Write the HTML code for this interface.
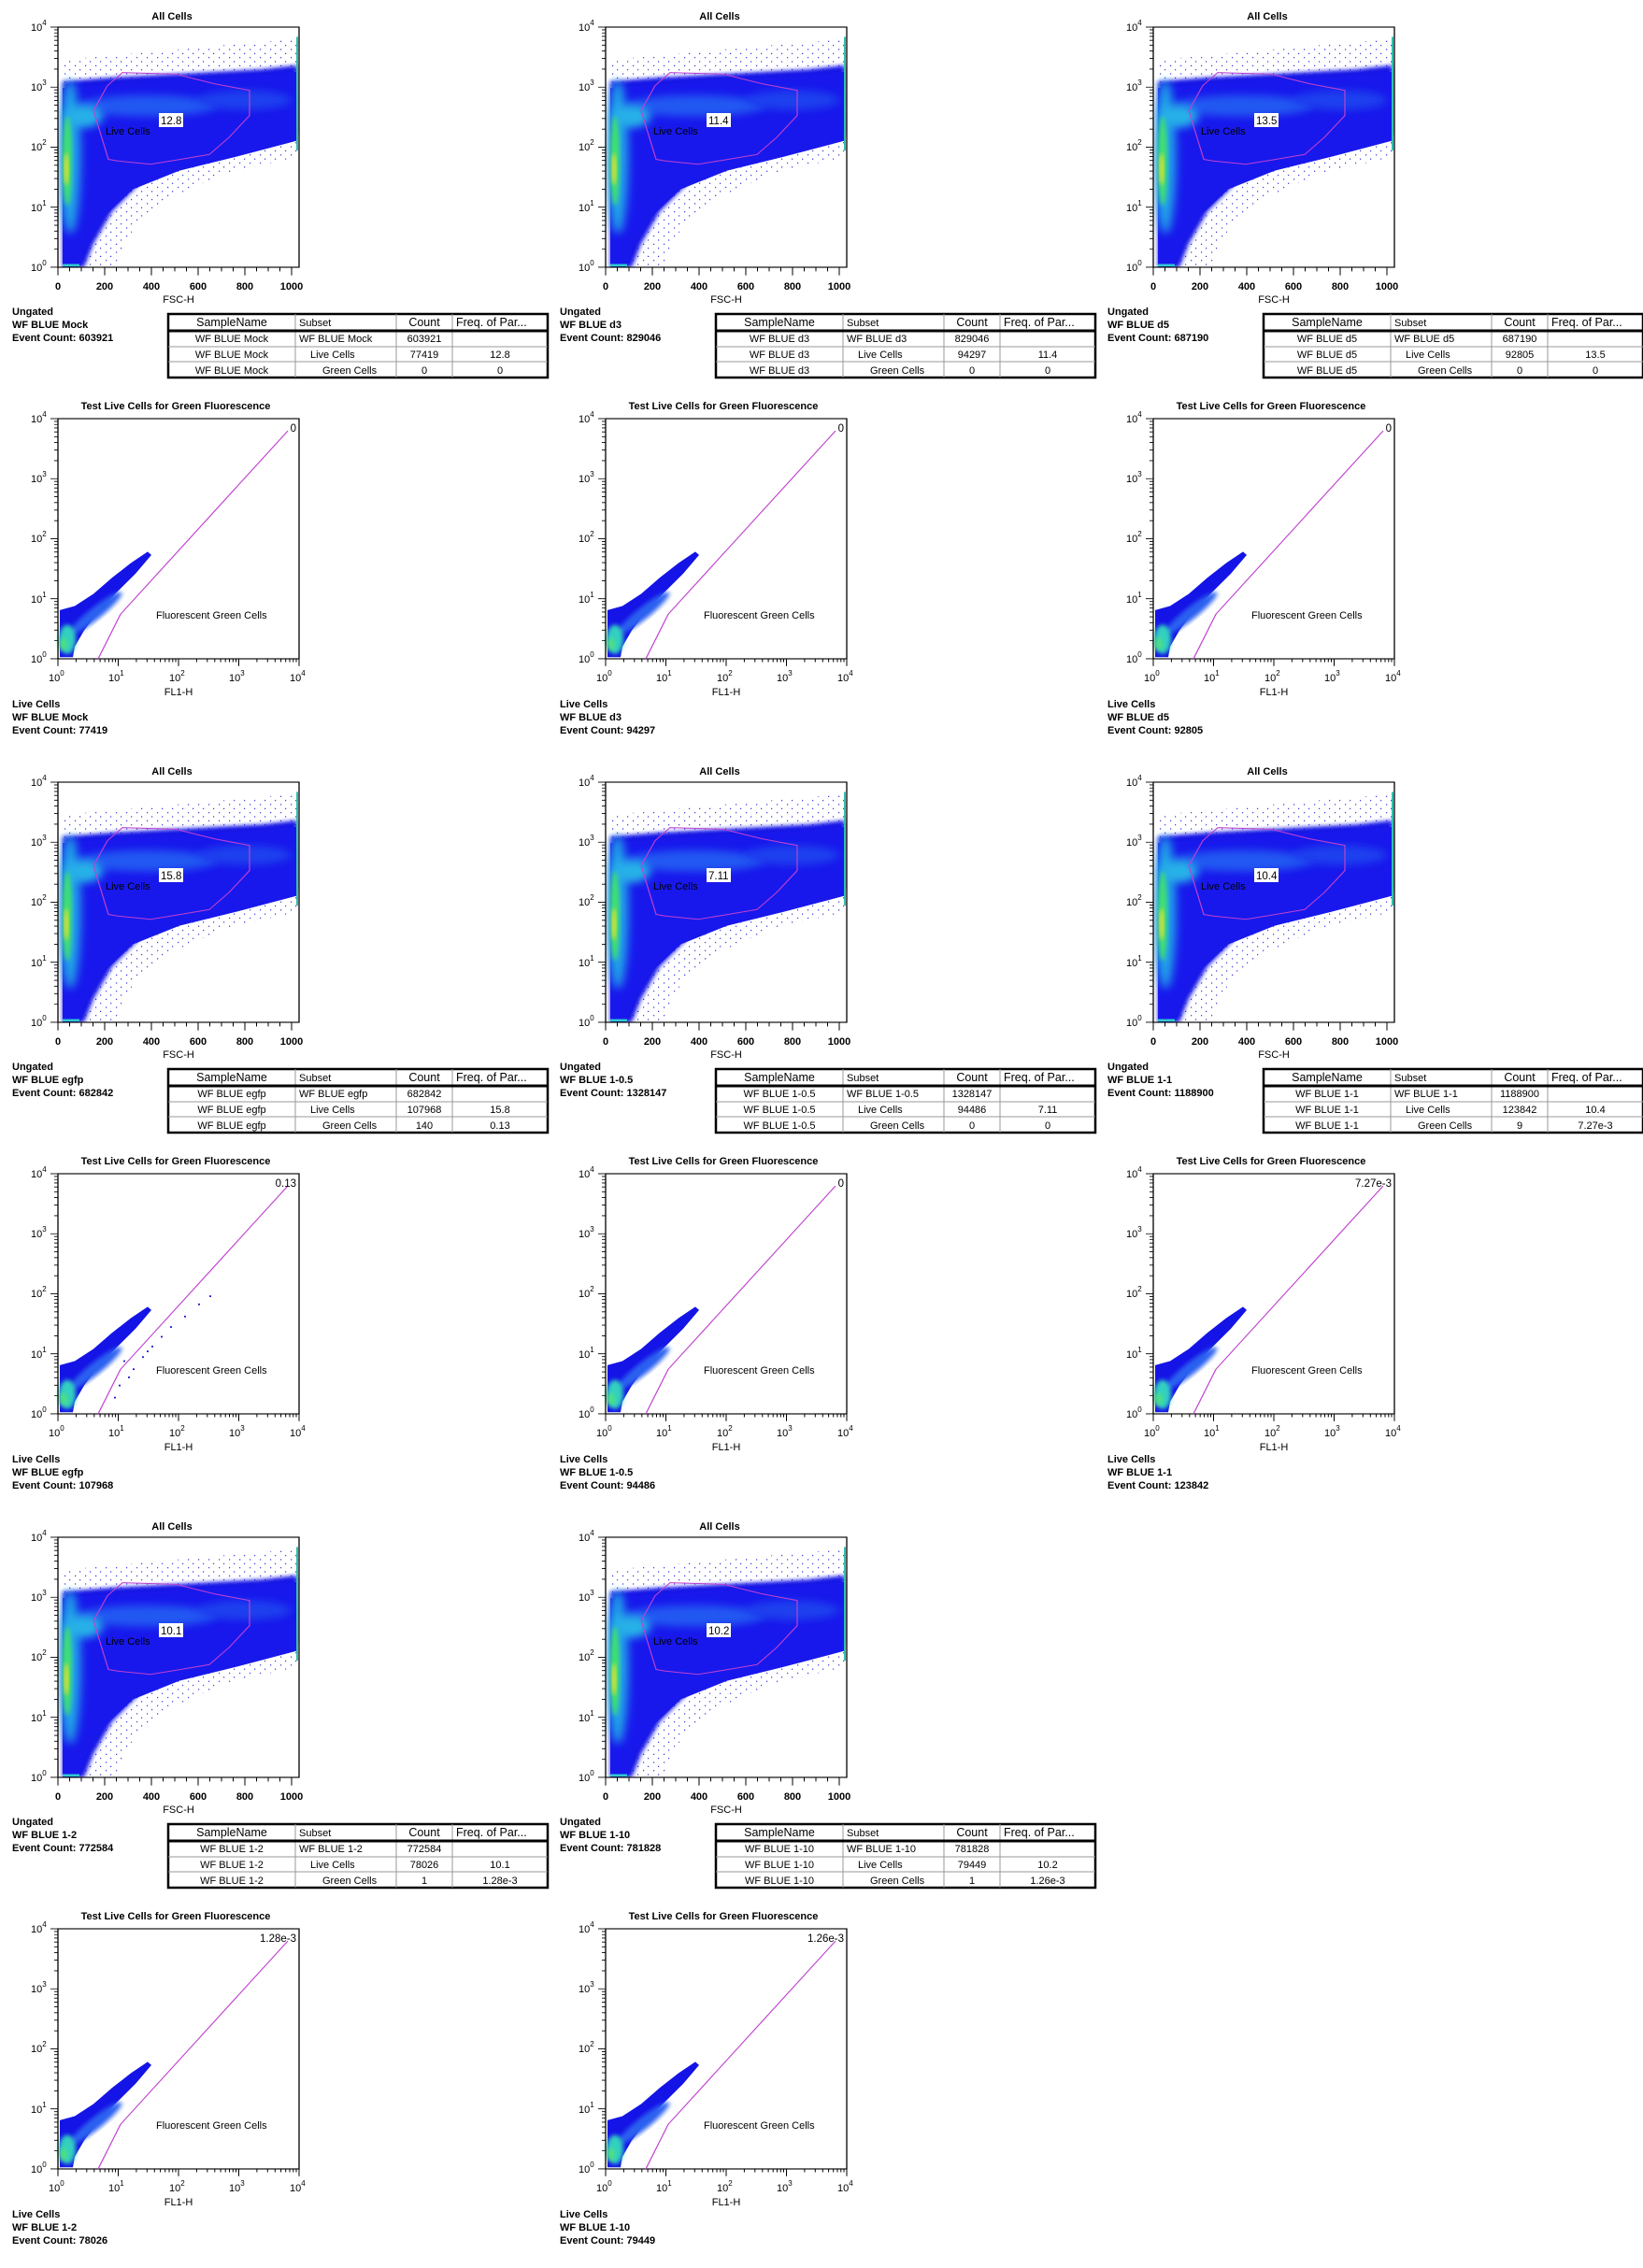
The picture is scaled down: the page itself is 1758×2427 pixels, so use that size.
<!DOCTYPE html>
<html><head><meta charset="utf-8">
<style>
html,body{margin:0;padding:0;background:#fff;}
svg{display:block;font-family:"Liberation Sans",sans-serif;}
.t{font-size:11px;fill:#000;}
.b{font-size:11px;font-weight:bold;fill:#000;}
.tt{font-size:11.5px;fill:#000;}
.th{font-size:12.5px;fill:#000;}
</style></head>
<body>
<svg width="1758" height="2427" viewBox="0 0 1758 2427" xmlns="http://www.w3.org/2000/svg">
<defs>
<clipPath id="box"><rect x="0" y="0" width="258" height="296"/></clipPath>
<filter id="bl" x="-20%" y="-20%" width="140%" height="140%"><feGaussianBlur stdDeviation="2.5"/></filter>
<filter id="bl2" x="-50%" y="-50%" width="200%" height="200%"><feGaussianBlur stdDeviation="5"/></filter>
<pattern id="dots" width="11" height="10" patternUnits="userSpaceOnUse">
<rect x="1" y="2" width="1.2" height="1.2" fill="#1010d0"/><rect x="7" y="7" width="1.2" height="1.2" fill="#1010d0"/>
</pattern>
<path id="ydec" d="M-8,0H0M-4,-22.3H0M-4,-35.3H0M-4,-44.6H0M-4,-51.7H0M-4,-57.6H0M-4,-62.5H0M-4,-66.8H0M-4,-70.6H0" stroke="#000" stroke-width="1" fill="none"/>
<path id="xdec" d="M0,296V305M19.4,296V300M30.8,296V300M38.8,296V300M45.1,296V300M50.2,296V300M54.5,296V300M58.3,296V300M61.5,296V300" stroke="#000" stroke-width="1" fill="none"/>
<g id="yax">
<use href="#ydec" y="296"/><use href="#ydec" y="222"/><use href="#ydec" y="148"/><use href="#ydec" y="74"/>
<path d="M-8,0H0" stroke="#000"/>
</g>
<g id="scData" clip-path="url(#box)">
<polygon points="5,296 60,296 80,250 120,210 180,180 256,160 256,15 150,25 60,35 5,40" fill="url(#dots)"/>
<polygon points="5,296 28,296 38,267 58,227 88,192 138,167 188,152 256,132 256,47 218,52 138,57 58,62 5,67" fill="#1414e6" filter="url(#bl)"/>
<polygon points="5,296 22,296 30,270 48,235 80,200 130,177 190,160 256,140 256,55 200,60 130,64 58,70 5,75" fill="#1818ec"/>
<ellipse cx="95" cy="97" rx="75" ry="13" fill="#2458f2" filter="url(#bl2)"/>
<ellipse cx="200" cy="90" rx="50" ry="12" fill="#1e40ee" filter="url(#bl2)"/>
<ellipse cx="13" cy="160" rx="11" ry="95" fill="#20a8e8" filter="url(#bl2)"/>
<ellipse cx="28" cy="110" rx="20" ry="14" fill="#28b0e8" filter="url(#bl2)"/>
<ellipse cx="10" cy="165" rx="5" ry="55" fill="#40e070" filter="url(#bl)"/>
<ellipse cx="9" cy="175" rx="2.5" ry="20" fill="#e8e030" filter="url(#bl)"/>
<rect x="255" y="12" width="2" height="140" fill="#30c0b0"/>
<rect x="5" y="292" width="18" height="3" fill="#30c8d0"/>
</g>
<g id="flData">
<polygon points="2,294 2,236 18,231 38,216 58,196 78,178 96,164 100,168 83,191 63,214 43,238 28,261 18,281 16,294" fill="#1414e6"/>
<ellipse cx="40" cy="240" rx="38" ry="7" transform="rotate(-43 40 240)" fill="#2a60f0" filter="url(#bl)"/>
<ellipse cx="10" cy="272" rx="9" ry="18" fill="#30d0c0" filter="url(#bl)"/>
<ellipse cx="6" cy="278" rx="4" ry="8" fill="#50e080" filter="url(#bl)"/>
</g>
<g id="scAxes">
<rect x="0" y="0" width="258" height="296" fill="none" stroke="#000" stroke-width="1.3"/>
<use href="#yax"/>
<path d="M0,296V306M50,296V306M100,296V306M150,296V306M200,296V306M250,296V306M12.5,296V301M25,296V301M37.5,296V301M62.5,296V301M75,296V301M87.5,296V301M112.5,296V301M125,296V301M137.5,296V301M162.5,296V301M175,296V301M187.5,296V301M212.5,296V301M225,296V301M237.5,296V301" stroke="#000" fill="none"/>
<polygon points="69,56 126,58 168,70 205,78 205,109 183,136 162,157 126,164 99,169 64,165 54,163 38,103 53,72" fill="none" stroke="#c040d0" stroke-width="1.2"/>
</g>
<g id="flAxes">
<rect x="0" y="0" width="258" height="296" fill="none" stroke="#000" stroke-width="1.3"/>
<use href="#yax"/>
<use href="#xdec" x="0"/><use href="#xdec" x="64.5"/><use href="#xdec" x="129"/><use href="#xdec" x="193.5"/>
<path d="M258,296V305" stroke="#000"/>
<polyline points="43,296 67,241 246,15" fill="none" stroke="#c040d0" stroke-width="1.2"/>
</g>
<g id="tbl">
<rect x="0" y="0" width="406" height="68" fill="#fff" stroke="#000" stroke-width="2.5"/>
<path d="M136,0V68M244,0V68M304,0V68M0,35H406M0,51H406" stroke="#999" stroke-width="1" fill="none"/>
<path d="M0,18H406" stroke="#000" stroke-width="3"/>
</g>
<g id="scFull"><g transform="scale(1,0.8682)"><use href="#scData"/><use href="#scAxes"/></g><rect x="108" y="92" width="26" height="15" fill="#fff"/></g>
<g id="flFull" transform="scale(1,0.8682)"><use href="#flData"/><use href="#flAxes"/></g>
</defs>

<!-- ============ ROW GROUP 0 ============ -->
<g transform="translate(62,29)">
<use href="#scFull"/>
<text class="b" x="122" y="-8" text-anchor="middle">All Cells</text>
<text class="t" x="-29" y="261">10<tspan dy="-6" font-size="8">0</tspan></text>
<text class="t" x="-29" y="197">10<tspan dy="-6" font-size="8">1</tspan></text>
<text class="t" x="-29" y="132">10<tspan dy="-6" font-size="8">2</tspan></text>
<text class="t" x="-29" y="68">10<tspan dy="-6" font-size="8">3</tspan></text>
<text class="t" x="-29" y="4">10<tspan dy="-6" font-size="8">4</tspan></text>
<text class="b" y="281" text-anchor="middle"><tspan x="0">0</tspan><tspan x="50">200</tspan><tspan x="100">400</tspan><tspan x="150">600</tspan><tspan x="200">800</tspan><tspan x="250">1000</tspan></text>
<text class="t" x="129" y="295" text-anchor="middle">FSC-H</text>
<text class="tt" x="110" y="104">12.8</text>
<text class="t" x="51" y="115" fill="#333">Live Cells</text>
<text class="b" x="-49" y="308">Ungated</text><text class="b" x="-49" y="322">WF BLUE Mock</text><text class="b" x="-49" y="336">Event Count: 603921</text>
<g transform="translate(118,307)"><use href="#tbl"/>
<text class="th" x="68" y="13" text-anchor="middle">SampleName</text><text class="t" x="140" y="13">Subset</text><text class="th" x="274" y="13" text-anchor="middle">Count</text><text class="th" x="308" y="13">Freq. of Par...</text>
<text class="t" x="68" y="30" text-anchor="middle">WF BLUE Mock</text><text class="t" x="140" y="30">WF BLUE Mock</text><text class="t" x="274" y="30" text-anchor="middle">603921</text>
<text class="t" x="68" y="47" text-anchor="middle">WF BLUE Mock</text><text class="t" x="152" y="47">Live Cells</text><text class="t" x="274" y="47" text-anchor="middle">77419</text><text class="t" x="355" y="47" text-anchor="middle">12.8</text>
<text class="t" x="68" y="64" text-anchor="middle">WF BLUE Mock</text><text class="t" x="165" y="64">Green Cells</text><text class="t" x="274" y="64" text-anchor="middle">0</text><text class="t" x="355" y="64" text-anchor="middle">0</text>
</g>
</g>
<g transform="translate(648,29)">
<use href="#scFull"/>
<text class="b" x="122" y="-8" text-anchor="middle">All Cells</text>
<text class="t" x="-29" y="261">10<tspan dy="-6" font-size="8">0</tspan></text>
<text class="t" x="-29" y="197">10<tspan dy="-6" font-size="8">1</tspan></text>
<text class="t" x="-29" y="132">10<tspan dy="-6" font-size="8">2</tspan></text>
<text class="t" x="-29" y="68">10<tspan dy="-6" font-size="8">3</tspan></text>
<text class="t" x="-29" y="4">10<tspan dy="-6" font-size="8">4</tspan></text>
<text class="b" y="281" text-anchor="middle"><tspan x="0">0</tspan><tspan x="50">200</tspan><tspan x="100">400</tspan><tspan x="150">600</tspan><tspan x="200">800</tspan><tspan x="250">1000</tspan></text>
<text class="t" x="129" y="295" text-anchor="middle">FSC-H</text>
<text class="tt" x="110" y="104">11.4</text>
<text class="t" x="51" y="115" fill="#333">Live Cells</text>
<text class="b" x="-49" y="308">Ungated</text><text class="b" x="-49" y="322">WF BLUE d3</text><text class="b" x="-49" y="336">Event Count: 829046</text>
<g transform="translate(118,307)"><use href="#tbl"/>
<text class="th" x="68" y="13" text-anchor="middle">SampleName</text><text class="t" x="140" y="13">Subset</text><text class="th" x="274" y="13" text-anchor="middle">Count</text><text class="th" x="308" y="13">Freq. of Par...</text>
<text class="t" x="68" y="30" text-anchor="middle">WF BLUE d3</text><text class="t" x="140" y="30">WF BLUE d3</text><text class="t" x="274" y="30" text-anchor="middle">829046</text>
<text class="t" x="68" y="47" text-anchor="middle">WF BLUE d3</text><text class="t" x="152" y="47">Live Cells</text><text class="t" x="274" y="47" text-anchor="middle">94297</text><text class="t" x="355" y="47" text-anchor="middle">11.4</text>
<text class="t" x="68" y="64" text-anchor="middle">WF BLUE d3</text><text class="t" x="165" y="64">Green Cells</text><text class="t" x="274" y="64" text-anchor="middle">0</text><text class="t" x="355" y="64" text-anchor="middle">0</text>
</g>
</g>
<g transform="translate(1234,29)">
<use href="#scFull"/>
<text class="b" x="122" y="-8" text-anchor="middle">All Cells</text>
<text class="t" x="-29" y="261">10<tspan dy="-6" font-size="8">0</tspan></text>
<text class="t" x="-29" y="197">10<tspan dy="-6" font-size="8">1</tspan></text>
<text class="t" x="-29" y="132">10<tspan dy="-6" font-size="8">2</tspan></text>
<text class="t" x="-29" y="68">10<tspan dy="-6" font-size="8">3</tspan></text>
<text class="t" x="-29" y="4">10<tspan dy="-6" font-size="8">4</tspan></text>
<text class="b" y="281" text-anchor="middle"><tspan x="0">0</tspan><tspan x="50">200</tspan><tspan x="100">400</tspan><tspan x="150">600</tspan><tspan x="200">800</tspan><tspan x="250">1000</tspan></text>
<text class="t" x="129" y="295" text-anchor="middle">FSC-H</text>
<text class="tt" x="110" y="104">13.5</text>
<text class="t" x="51" y="115" fill="#333">Live Cells</text>
<text class="b" x="-49" y="308">Ungated</text><text class="b" x="-49" y="322">WF BLUE d5</text><text class="b" x="-49" y="336">Event Count: 687190</text>
<g transform="translate(118,307)"><use href="#tbl"/>
<text class="th" x="68" y="13" text-anchor="middle">SampleName</text><text class="t" x="140" y="13">Subset</text><text class="th" x="274" y="13" text-anchor="middle">Count</text><text class="th" x="308" y="13">Freq. of Par...</text>
<text class="t" x="68" y="30" text-anchor="middle">WF BLUE d5</text><text class="t" x="140" y="30">WF BLUE d5</text><text class="t" x="274" y="30" text-anchor="middle">687190</text>
<text class="t" x="68" y="47" text-anchor="middle">WF BLUE d5</text><text class="t" x="152" y="47">Live Cells</text><text class="t" x="274" y="47" text-anchor="middle">92805</text><text class="t" x="355" y="47" text-anchor="middle">13.5</text>
<text class="t" x="68" y="64" text-anchor="middle">WF BLUE d5</text><text class="t" x="165" y="64">Green Cells</text><text class="t" x="274" y="64" text-anchor="middle">0</text><text class="t" x="355" y="64" text-anchor="middle">0</text>
</g>
</g>

<g transform="translate(62,448)">
<use href="#flFull"/>
<text class="b" x="126" y="-10" text-anchor="middle">Test Live Cells for Green Fluorescence</text>
<text class="t" x="-29" y="261">10<tspan dy="-6" font-size="8">0</tspan></text>
<text class="t" x="-29" y="197">10<tspan dy="-6" font-size="8">1</tspan></text>
<text class="t" x="-29" y="132">10<tspan dy="-6" font-size="8">2</tspan></text>
<text class="t" x="-29" y="68">10<tspan dy="-6" font-size="8">3</tspan></text>
<text class="t" x="-29" y="4">10<tspan dy="-6" font-size="8">4</tspan></text>
<text class="t" x="-10" y="281">10<tspan dy="-6" font-size="8">0</tspan></text>
<text class="t" x="54" y="281">10<tspan dy="-6" font-size="8">1</tspan></text>
<text class="t" x="119" y="281">10<tspan dy="-6" font-size="8">2</tspan></text>
<text class="t" x="183" y="281">10<tspan dy="-6" font-size="8">3</tspan></text>
<text class="t" x="248" y="281">10<tspan dy="-6" font-size="8">4</tspan></text>
<text class="t" x="129" y="296" text-anchor="middle">FL1-H</text>
<text class="t" x="105" y="214">Fluorescent Green Cells</text>
<text class="tt" x="255" y="14" text-anchor="end">0</text>
<text class="b" x="-49" y="309">Live Cells</text><text class="b" x="-49" y="323">WF BLUE Mock</text><text class="b" x="-49" y="337">Event Count: 77419</text>
</g>
<g transform="translate(648,448)">
<use href="#flFull"/>
<text class="b" x="126" y="-10" text-anchor="middle">Test Live Cells for Green Fluorescence</text>
<text class="t" x="-29" y="261">10<tspan dy="-6" font-size="8">0</tspan></text>
<text class="t" x="-29" y="197">10<tspan dy="-6" font-size="8">1</tspan></text>
<text class="t" x="-29" y="132">10<tspan dy="-6" font-size="8">2</tspan></text>
<text class="t" x="-29" y="68">10<tspan dy="-6" font-size="8">3</tspan></text>
<text class="t" x="-29" y="4">10<tspan dy="-6" font-size="8">4</tspan></text>
<text class="t" x="-10" y="281">10<tspan dy="-6" font-size="8">0</tspan></text>
<text class="t" x="54" y="281">10<tspan dy="-6" font-size="8">1</tspan></text>
<text class="t" x="119" y="281">10<tspan dy="-6" font-size="8">2</tspan></text>
<text class="t" x="183" y="281">10<tspan dy="-6" font-size="8">3</tspan></text>
<text class="t" x="248" y="281">10<tspan dy="-6" font-size="8">4</tspan></text>
<text class="t" x="129" y="296" text-anchor="middle">FL1-H</text>
<text class="t" x="105" y="214">Fluorescent Green Cells</text>
<text class="tt" x="255" y="14" text-anchor="end">0</text>
<text class="b" x="-49" y="309">Live Cells</text><text class="b" x="-49" y="323">WF BLUE d3</text><text class="b" x="-49" y="337">Event Count: 94297</text>
</g>
<g transform="translate(1234,448)">
<use href="#flFull"/>
<text class="b" x="126" y="-10" text-anchor="middle">Test Live Cells for Green Fluorescence</text>
<text class="t" x="-29" y="261">10<tspan dy="-6" font-size="8">0</tspan></text>
<text class="t" x="-29" y="197">10<tspan dy="-6" font-size="8">1</tspan></text>
<text class="t" x="-29" y="132">10<tspan dy="-6" font-size="8">2</tspan></text>
<text class="t" x="-29" y="68">10<tspan dy="-6" font-size="8">3</tspan></text>
<text class="t" x="-29" y="4">10<tspan dy="-6" font-size="8">4</tspan></text>
<text class="t" x="-10" y="281">10<tspan dy="-6" font-size="8">0</tspan></text>
<text class="t" x="54" y="281">10<tspan dy="-6" font-size="8">1</tspan></text>
<text class="t" x="119" y="281">10<tspan dy="-6" font-size="8">2</tspan></text>
<text class="t" x="183" y="281">10<tspan dy="-6" font-size="8">3</tspan></text>
<text class="t" x="248" y="281">10<tspan dy="-6" font-size="8">4</tspan></text>
<text class="t" x="129" y="296" text-anchor="middle">FL1-H</text>
<text class="t" x="105" y="214">Fluorescent Green Cells</text>
<text class="tt" x="255" y="14" text-anchor="end">0</text>
<text class="b" x="-49" y="309">Live Cells</text><text class="b" x="-49" y="323">WF BLUE d5</text><text class="b" x="-49" y="337">Event Count: 92805</text>
</g>

<!-- ============ ROW GROUP 1 ============ -->
<g transform="translate(62,837)">
<use href="#scFull"/>
<text class="b" x="122" y="-8" text-anchor="middle">All Cells</text>
<text class="t" x="-29" y="261">10<tspan dy="-6" font-size="8">0</tspan></text>
<text class="t" x="-29" y="197">10<tspan dy="-6" font-size="8">1</tspan></text>
<text class="t" x="-29" y="132">10<tspan dy="-6" font-size="8">2</tspan></text>
<text class="t" x="-29" y="68">10<tspan dy="-6" font-size="8">3</tspan></text>
<text class="t" x="-29" y="4">10<tspan dy="-6" font-size="8">4</tspan></text>
<text class="b" y="281" text-anchor="middle"><tspan x="0">0</tspan><tspan x="50">200</tspan><tspan x="100">400</tspan><tspan x="150">600</tspan><tspan x="200">800</tspan><tspan x="250">1000</tspan></text>
<text class="t" x="129" y="295" text-anchor="middle">FSC-H</text>
<text class="tt" x="110" y="104">15.8</text>
<text class="t" x="51" y="115" fill="#333">Live Cells</text>
<text class="b" x="-49" y="308">Ungated</text><text class="b" x="-49" y="322">WF BLUE egfp</text><text class="b" x="-49" y="336">Event Count: 682842</text>
<g transform="translate(118,307)"><use href="#tbl"/>
<text class="th" x="68" y="13" text-anchor="middle">SampleName</text><text class="t" x="140" y="13">Subset</text><text class="th" x="274" y="13" text-anchor="middle">Count</text><text class="th" x="308" y="13">Freq. of Par...</text>
<text class="t" x="68" y="30" text-anchor="middle">WF BLUE egfp</text><text class="t" x="140" y="30">WF BLUE egfp</text><text class="t" x="274" y="30" text-anchor="middle">682842</text>
<text class="t" x="68" y="47" text-anchor="middle">WF BLUE egfp</text><text class="t" x="152" y="47">Live Cells</text><text class="t" x="274" y="47" text-anchor="middle">107968</text><text class="t" x="355" y="47" text-anchor="middle">15.8</text>
<text class="t" x="68" y="64" text-anchor="middle">WF BLUE egfp</text><text class="t" x="165" y="64">Green Cells</text><text class="t" x="274" y="64" text-anchor="middle">140</text><text class="t" x="355" y="64" text-anchor="middle">0.13</text>
</g>
</g>
<g transform="translate(648,837)">
<use href="#scFull"/>
<text class="b" x="122" y="-8" text-anchor="middle">All Cells</text>
<text class="t" x="-29" y="261">10<tspan dy="-6" font-size="8">0</tspan></text>
<text class="t" x="-29" y="197">10<tspan dy="-6" font-size="8">1</tspan></text>
<text class="t" x="-29" y="132">10<tspan dy="-6" font-size="8">2</tspan></text>
<text class="t" x="-29" y="68">10<tspan dy="-6" font-size="8">3</tspan></text>
<text class="t" x="-29" y="4">10<tspan dy="-6" font-size="8">4</tspan></text>
<text class="b" y="281" text-anchor="middle"><tspan x="0">0</tspan><tspan x="50">200</tspan><tspan x="100">400</tspan><tspan x="150">600</tspan><tspan x="200">800</tspan><tspan x="250">1000</tspan></text>
<text class="t" x="129" y="295" text-anchor="middle">FSC-H</text>
<text class="tt" x="110" y="104">7.11</text>
<text class="t" x="51" y="115" fill="#333">Live Cells</text>
<text class="b" x="-49" y="308">Ungated</text><text class="b" x="-49" y="322">WF BLUE 1-0.5</text><text class="b" x="-49" y="336">Event Count: 1328147</text>
<g transform="translate(118,307)"><use href="#tbl"/>
<text class="th" x="68" y="13" text-anchor="middle">SampleName</text><text class="t" x="140" y="13">Subset</text><text class="th" x="274" y="13" text-anchor="middle">Count</text><text class="th" x="308" y="13">Freq. of Par...</text>
<text class="t" x="68" y="30" text-anchor="middle">WF BLUE 1-0.5</text><text class="t" x="140" y="30">WF BLUE 1-0.5</text><text class="t" x="274" y="30" text-anchor="middle">1328147</text>
<text class="t" x="68" y="47" text-anchor="middle">WF BLUE 1-0.5</text><text class="t" x="152" y="47">Live Cells</text><text class="t" x="274" y="47" text-anchor="middle">94486</text><text class="t" x="355" y="47" text-anchor="middle">7.11</text>
<text class="t" x="68" y="64" text-anchor="middle">WF BLUE 1-0.5</text><text class="t" x="165" y="64">Green Cells</text><text class="t" x="274" y="64" text-anchor="middle">0</text><text class="t" x="355" y="64" text-anchor="middle">0</text>
</g>
</g>
<g transform="translate(1234,837)">
<use href="#scFull"/>
<text class="b" x="122" y="-8" text-anchor="middle">All Cells</text>
<text class="t" x="-29" y="261">10<tspan dy="-6" font-size="8">0</tspan></text>
<text class="t" x="-29" y="197">10<tspan dy="-6" font-size="8">1</tspan></text>
<text class="t" x="-29" y="132">10<tspan dy="-6" font-size="8">2</tspan></text>
<text class="t" x="-29" y="68">10<tspan dy="-6" font-size="8">3</tspan></text>
<text class="t" x="-29" y="4">10<tspan dy="-6" font-size="8">4</tspan></text>
<text class="b" y="281" text-anchor="middle"><tspan x="0">0</tspan><tspan x="50">200</tspan><tspan x="100">400</tspan><tspan x="150">600</tspan><tspan x="200">800</tspan><tspan x="250">1000</tspan></text>
<text class="t" x="129" y="295" text-anchor="middle">FSC-H</text>
<text class="tt" x="110" y="104">10.4</text>
<text class="t" x="51" y="115" fill="#333">Live Cells</text>
<text class="b" x="-49" y="308">Ungated</text><text class="b" x="-49" y="322">WF BLUE 1-1</text><text class="b" x="-49" y="336">Event Count: 1188900</text>
<g transform="translate(118,307)"><use href="#tbl"/>
<text class="th" x="68" y="13" text-anchor="middle">SampleName</text><text class="t" x="140" y="13">Subset</text><text class="th" x="274" y="13" text-anchor="middle">Count</text><text class="th" x="308" y="13">Freq. of Par...</text>
<text class="t" x="68" y="30" text-anchor="middle">WF BLUE 1-1</text><text class="t" x="140" y="30">WF BLUE 1-1</text><text class="t" x="274" y="30" text-anchor="middle">1188900</text>
<text class="t" x="68" y="47" text-anchor="middle">WF BLUE 1-1</text><text class="t" x="152" y="47">Live Cells</text><text class="t" x="274" y="47" text-anchor="middle">123842</text><text class="t" x="355" y="47" text-anchor="middle">10.4</text>
<text class="t" x="68" y="64" text-anchor="middle">WF BLUE 1-1</text><text class="t" x="165" y="64">Green Cells</text><text class="t" x="274" y="64" text-anchor="middle">9</text><text class="t" x="355" y="64" text-anchor="middle">7.27e-3</text>
</g>
</g>

<g transform="translate(62,1256)">
<use href="#flFull"/>
<g fill="#1a1ad8" transform="scale(1,0.8682)"><rect x="70" y="230" width="2" height="2"/><rect x="80" y="240" width="2" height="2"/><rect x="90" y="225" width="2" height="2"/><rect x="100" y="212" width="2" height="2"/><rect x="110" y="200" width="2" height="2"/><rect x="120" y="188" width="2" height="2"/><rect x="135" y="175" width="2" height="2"/><rect x="150" y="160" width="2" height="2"/><rect x="65" y="260" width="2" height="2"/><rect x="75" y="250" width="2" height="2"/><rect x="60" y="275" width="2" height="2"/><rect x="95" y="218" width="2" height="2"/><rect x="162" y="150" width="2" height="2"/></g>
<text class="b" x="126" y="-10" text-anchor="middle">Test Live Cells for Green Fluorescence</text>
<text class="t" x="-29" y="261">10<tspan dy="-6" font-size="8">0</tspan></text>
<text class="t" x="-29" y="197">10<tspan dy="-6" font-size="8">1</tspan></text>
<text class="t" x="-29" y="132">10<tspan dy="-6" font-size="8">2</tspan></text>
<text class="t" x="-29" y="68">10<tspan dy="-6" font-size="8">3</tspan></text>
<text class="t" x="-29" y="4">10<tspan dy="-6" font-size="8">4</tspan></text>
<text class="t" x="-10" y="281">10<tspan dy="-6" font-size="8">0</tspan></text>
<text class="t" x="54" y="281">10<tspan dy="-6" font-size="8">1</tspan></text>
<text class="t" x="119" y="281">10<tspan dy="-6" font-size="8">2</tspan></text>
<text class="t" x="183" y="281">10<tspan dy="-6" font-size="8">3</tspan></text>
<text class="t" x="248" y="281">10<tspan dy="-6" font-size="8">4</tspan></text>
<text class="t" x="129" y="296" text-anchor="middle">FL1-H</text>
<text class="t" x="105" y="214">Fluorescent Green Cells</text>
<text class="tt" x="255" y="14" text-anchor="end">0.13</text>
<text class="b" x="-49" y="309">Live Cells</text><text class="b" x="-49" y="323">WF BLUE egfp</text><text class="b" x="-49" y="337">Event Count: 107968</text>
</g>
<g transform="translate(648,1256)">
<use href="#flFull"/>
<text class="b" x="126" y="-10" text-anchor="middle">Test Live Cells for Green Fluorescence</text>
<text class="t" x="-29" y="261">10<tspan dy="-6" font-size="8">0</tspan></text>
<text class="t" x="-29" y="197">10<tspan dy="-6" font-size="8">1</tspan></text>
<text class="t" x="-29" y="132">10<tspan dy="-6" font-size="8">2</tspan></text>
<text class="t" x="-29" y="68">10<tspan dy="-6" font-size="8">3</tspan></text>
<text class="t" x="-29" y="4">10<tspan dy="-6" font-size="8">4</tspan></text>
<text class="t" x="-10" y="281">10<tspan dy="-6" font-size="8">0</tspan></text>
<text class="t" x="54" y="281">10<tspan dy="-6" font-size="8">1</tspan></text>
<text class="t" x="119" y="281">10<tspan dy="-6" font-size="8">2</tspan></text>
<text class="t" x="183" y="281">10<tspan dy="-6" font-size="8">3</tspan></text>
<text class="t" x="248" y="281">10<tspan dy="-6" font-size="8">4</tspan></text>
<text class="t" x="129" y="296" text-anchor="middle">FL1-H</text>
<text class="t" x="105" y="214">Fluorescent Green Cells</text>
<text class="tt" x="255" y="14" text-anchor="end">0</text>
<text class="b" x="-49" y="309">Live Cells</text><text class="b" x="-49" y="323">WF BLUE 1-0.5</text><text class="b" x="-49" y="337">Event Count: 94486</text>
</g>
<g transform="translate(1234,1256)">
<use href="#flFull"/>
<text class="b" x="126" y="-10" text-anchor="middle">Test Live Cells for Green Fluorescence</text>
<text class="t" x="-29" y="261">10<tspan dy="-6" font-size="8">0</tspan></text>
<text class="t" x="-29" y="197">10<tspan dy="-6" font-size="8">1</tspan></text>
<text class="t" x="-29" y="132">10<tspan dy="-6" font-size="8">2</tspan></text>
<text class="t" x="-29" y="68">10<tspan dy="-6" font-size="8">3</tspan></text>
<text class="t" x="-29" y="4">10<tspan dy="-6" font-size="8">4</tspan></text>
<text class="t" x="-10" y="281">10<tspan dy="-6" font-size="8">0</tspan></text>
<text class="t" x="54" y="281">10<tspan dy="-6" font-size="8">1</tspan></text>
<text class="t" x="119" y="281">10<tspan dy="-6" font-size="8">2</tspan></text>
<text class="t" x="183" y="281">10<tspan dy="-6" font-size="8">3</tspan></text>
<text class="t" x="248" y="281">10<tspan dy="-6" font-size="8">4</tspan></text>
<text class="t" x="129" y="296" text-anchor="middle">FL1-H</text>
<text class="t" x="105" y="214">Fluorescent Green Cells</text>
<text class="tt" x="255" y="14" text-anchor="end">7.27e-3</text>
<text class="b" x="-49" y="309">Live Cells</text><text class="b" x="-49" y="323">WF BLUE 1-1</text><text class="b" x="-49" y="337">Event Count: 123842</text>
</g>

<!-- ============ ROW GROUP 2 ============ -->
<g transform="translate(62,1645)">
<use href="#scFull"/>
<text class="b" x="122" y="-8" text-anchor="middle">All Cells</text>
<text class="t" x="-29" y="261">10<tspan dy="-6" font-size="8">0</tspan></text>
<text class="t" x="-29" y="197">10<tspan dy="-6" font-size="8">1</tspan></text>
<text class="t" x="-29" y="132">10<tspan dy="-6" font-size="8">2</tspan></text>
<text class="t" x="-29" y="68">10<tspan dy="-6" font-size="8">3</tspan></text>
<text class="t" x="-29" y="4">10<tspan dy="-6" font-size="8">4</tspan></text>
<text class="b" y="281" text-anchor="middle"><tspan x="0">0</tspan><tspan x="50">200</tspan><tspan x="100">400</tspan><tspan x="150">600</tspan><tspan x="200">800</tspan><tspan x="250">1000</tspan></text>
<text class="t" x="129" y="295" text-anchor="middle">FSC-H</text>
<text class="tt" x="110" y="104">10.1</text>
<text class="t" x="51" y="115" fill="#333">Live Cells</text>
<text class="b" x="-49" y="308">Ungated</text><text class="b" x="-49" y="322">WF BLUE 1-2</text><text class="b" x="-49" y="336">Event Count: 772584</text>
<g transform="translate(118,307)"><use href="#tbl"/>
<text class="th" x="68" y="13" text-anchor="middle">SampleName</text><text class="t" x="140" y="13">Subset</text><text class="th" x="274" y="13" text-anchor="middle">Count</text><text class="th" x="308" y="13">Freq. of Par...</text>
<text class="t" x="68" y="30" text-anchor="middle">WF BLUE 1-2</text><text class="t" x="140" y="30">WF BLUE 1-2</text><text class="t" x="274" y="30" text-anchor="middle">772584</text>
<text class="t" x="68" y="47" text-anchor="middle">WF BLUE 1-2</text><text class="t" x="152" y="47">Live Cells</text><text class="t" x="274" y="47" text-anchor="middle">78026</text><text class="t" x="355" y="47" text-anchor="middle">10.1</text>
<text class="t" x="68" y="64" text-anchor="middle">WF BLUE 1-2</text><text class="t" x="165" y="64">Green Cells</text><text class="t" x="274" y="64" text-anchor="middle">1</text><text class="t" x="355" y="64" text-anchor="middle">1.28e-3</text>
</g>
</g>
<g transform="translate(648,1645)">
<use href="#scFull"/>
<text class="b" x="122" y="-8" text-anchor="middle">All Cells</text>
<text class="t" x="-29" y="261">10<tspan dy="-6" font-size="8">0</tspan></text>
<text class="t" x="-29" y="197">10<tspan dy="-6" font-size="8">1</tspan></text>
<text class="t" x="-29" y="132">10<tspan dy="-6" font-size="8">2</tspan></text>
<text class="t" x="-29" y="68">10<tspan dy="-6" font-size="8">3</tspan></text>
<text class="t" x="-29" y="4">10<tspan dy="-6" font-size="8">4</tspan></text>
<text class="b" y="281" text-anchor="middle"><tspan x="0">0</tspan><tspan x="50">200</tspan><tspan x="100">400</tspan><tspan x="150">600</tspan><tspan x="200">800</tspan><tspan x="250">1000</tspan></text>
<text class="t" x="129" y="295" text-anchor="middle">FSC-H</text>
<text class="tt" x="110" y="104">10.2</text>
<text class="t" x="51" y="115" fill="#333">Live Cells</text>
<text class="b" x="-49" y="308">Ungated</text><text class="b" x="-49" y="322">WF BLUE 1-10</text><text class="b" x="-49" y="336">Event Count: 781828</text>
<g transform="translate(118,307)"><use href="#tbl"/>
<text class="th" x="68" y="13" text-anchor="middle">SampleName</text><text class="t" x="140" y="13">Subset</text><text class="th" x="274" y="13" text-anchor="middle">Count</text><text class="th" x="308" y="13">Freq. of Par...</text>
<text class="t" x="68" y="30" text-anchor="middle">WF BLUE 1-10</text><text class="t" x="140" y="30">WF BLUE 1-10</text><text class="t" x="274" y="30" text-anchor="middle">781828</text>
<text class="t" x="68" y="47" text-anchor="middle">WF BLUE 1-10</text><text class="t" x="152" y="47">Live Cells</text><text class="t" x="274" y="47" text-anchor="middle">79449</text><text class="t" x="355" y="47" text-anchor="middle">10.2</text>
<text class="t" x="68" y="64" text-anchor="middle">WF BLUE 1-10</text><text class="t" x="165" y="64">Green Cells</text><text class="t" x="274" y="64" text-anchor="middle">1</text><text class="t" x="355" y="64" text-anchor="middle">1.26e-3</text>
</g>
</g>

<g transform="translate(62,2064)">
<use href="#flFull"/>
<text class="b" x="126" y="-10" text-anchor="middle">Test Live Cells for Green Fluorescence</text>
<text class="t" x="-29" y="261">10<tspan dy="-6" font-size="8">0</tspan></text>
<text class="t" x="-29" y="197">10<tspan dy="-6" font-size="8">1</tspan></text>
<text class="t" x="-29" y="132">10<tspan dy="-6" font-size="8">2</tspan></text>
<text class="t" x="-29" y="68">10<tspan dy="-6" font-size="8">3</tspan></text>
<text class="t" x="-29" y="4">10<tspan dy="-6" font-size="8">4</tspan></text>
<text class="t" x="-10" y="281">10<tspan dy="-6" font-size="8">0</tspan></text>
<text class="t" x="54" y="281">10<tspan dy="-6" font-size="8">1</tspan></text>
<text class="t" x="119" y="281">10<tspan dy="-6" font-size="8">2</tspan></text>
<text class="t" x="183" y="281">10<tspan dy="-6" font-size="8">3</tspan></text>
<text class="t" x="248" y="281">10<tspan dy="-6" font-size="8">4</tspan></text>
<text class="t" x="129" y="296" text-anchor="middle">FL1-H</text>
<text class="t" x="105" y="214">Fluorescent Green Cells</text>
<text class="tt" x="255" y="14" text-anchor="end">1.28e-3</text>
<text class="b" x="-49" y="309">Live Cells</text><text class="b" x="-49" y="323">WF BLUE 1-2</text><text class="b" x="-49" y="337">Event Count: 78026</text>
</g>
<g transform="translate(648,2064)">
<use href="#flFull"/>
<text class="b" x="126" y="-10" text-anchor="middle">Test Live Cells for Green Fluorescence</text>
<text class="t" x="-29" y="261">10<tspan dy="-6" font-size="8">0</tspan></text>
<text class="t" x="-29" y="197">10<tspan dy="-6" font-size="8">1</tspan></text>
<text class="t" x="-29" y="132">10<tspan dy="-6" font-size="8">2</tspan></text>
<text class="t" x="-29" y="68">10<tspan dy="-6" font-size="8">3</tspan></text>
<text class="t" x="-29" y="4">10<tspan dy="-6" font-size="8">4</tspan></text>
<text class="t" x="-10" y="281">10<tspan dy="-6" font-size="8">0</tspan></text>
<text class="t" x="54" y="281">10<tspan dy="-6" font-size="8">1</tspan></text>
<text class="t" x="119" y="281">10<tspan dy="-6" font-size="8">2</tspan></text>
<text class="t" x="183" y="281">10<tspan dy="-6" font-size="8">3</tspan></text>
<text class="t" x="248" y="281">10<tspan dy="-6" font-size="8">4</tspan></text>
<text class="t" x="129" y="296" text-anchor="middle">FL1-H</text>
<text class="t" x="105" y="214">Fluorescent Green Cells</text>
<text class="tt" x="255" y="14" text-anchor="end">1.26e-3</text>
<text class="b" x="-49" y="309">Live Cells</text><text class="b" x="-49" y="323">WF BLUE 1-10</text><text class="b" x="-49" y="337">Event Count: 79449</text>
</g>
</svg>
</body></html>
